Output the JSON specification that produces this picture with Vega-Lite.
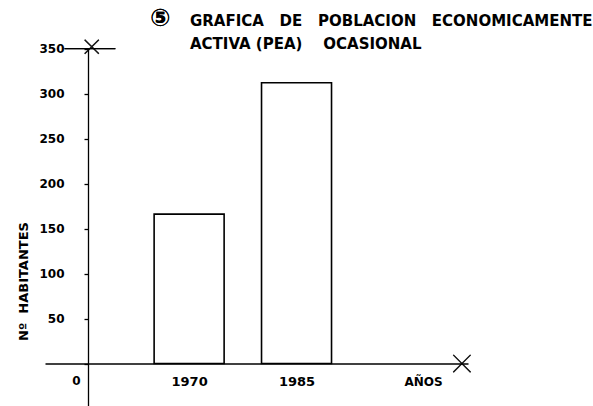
{
  "$schema": "https://vega.github.io/schema/vega-lite/v6.json",
  "width": 423,
  "height": 358,
  "autosize": "none",
  "padding": {"left": 45, "top": 48, "right": 125, "bottom": 0},
  "background": "white",
  "config": {
    "view": {"stroke": null},
    "font": "DejaVu Sans",
    "axis": {"domainColor": "black", "domainWidth": 1.3, "tickColor": "black", "tickWidth": 1.3, "labelColor": "black", "titleColor": "black", "grid": false, "labelFont": "DejaVu Sans", "titleFont": "DejaVu Sans", "labelFontWeight": "bold", "titleFontWeight": "bold"}
  },
  "title": {
    "text": ["GRAFICA\u00a0\u00a0\u00a0DE\u00a0\u00a0\u00a0POBLACION\u00a0\u00a0\u00a0ECONOMICAMENTE", "ACTIVA\u00a0(PEA)\u00a0\u00a0\u00a0\u00a0OCASIONAL"],
    "anchor": "start",
    "frame": "group",
    "dx": 145,
    "dy": 45,
    "font": "DejaVu Sans",
    "fontSize": 15,
    "fontWeight": "bold",
    "lineHeight": 23,
    "color": "black",
    "offset": 0
  },
  "data": {"values": [
    {"year": 1970, "habitantes": 166},
    {"year": 1985, "habitantes": 312}
  ]},
  "layer": [
    {
      "mark": {"type": "bar", "size": 70, "fill": "white", "stroke": "black", "strokeWidth": 1.6},
      "encoding": {
        "x": {"field": "year", "type": "quantitative",
          "scale": {"domain": [1950.57, 2008.25], "nice": false, "zero": false},
          "axis": {"values": [1970, 1985], "orient": "bottom", "offset": -42.5, "tickSize": 0, "labelPadding": 12, "labelFontSize": 13, "format": "d",
            "title": "AÑOS", "titleX": 378, "titleY": 18, "titleBaseline": "middle", "titleAlign": "center", "titleFontSize": 12}},
        "y": {"field": "habitantes", "type": "quantitative",
          "scale": {"domain": [-47.2, 350.6], "nice": false, "zero": false},
          "axis": {"values": [0, 50, 100, 150, 200, 250, 300, 350], "orient": "left", "offset": -43, "tickSize": 4, "labelFontSize": 12,
            "labelPadding": {"condition": {"test": "datum.value === 0", "value": 4}, "value": 20},
            "labelOffset": {"condition": {"test": "datum.value === 0", "value": 17}, "value": 0},
            "title": "Nº\u00a0\u00a0HABITANTES", "titleX": -65, "titleY": 233, "titleAngle": -90, "titleBaseline": "middle", "titleAlign": "center", "titleFontSize": 13}}
      }
    },
    {
      "mark": {"type": "rule", "stroke": "black", "strokeWidth": 1.2},
      "encoding": {"y": {"datum": 350}, "x": {"datum": 1952.6}, "x2": {"datum": 1959.7}}
    },
    {
      "mark": {"type": "point", "shape": "M-1,-1L1,1M-1,1L1,-1", "filled": false, "stroke": "black", "strokeWidth": 1.3, "size": 200},
      "encoding": {"x": {"datum": 1956.4}, "y": {"datum": 352}}
    },
    {
      "mark": {"type": "point", "shape": "M-1,-1L1,1M-1,1L1,-1", "filled": false, "stroke": "black", "strokeWidth": 1.3, "size": 300},
      "encoding": {"x": {"datum": 2008.1}, "y": {"datum": 0}}
    },
    {
      "mark": {"type": "text", "text": "⑤", "fontSize": 24, "fontWeight": "bold", "font": "DejaVu Sans", "color": "black"},
      "encoding": {"x": {"datum": 1966}, "y": {"datum": 383}}
    }
  ]
}
